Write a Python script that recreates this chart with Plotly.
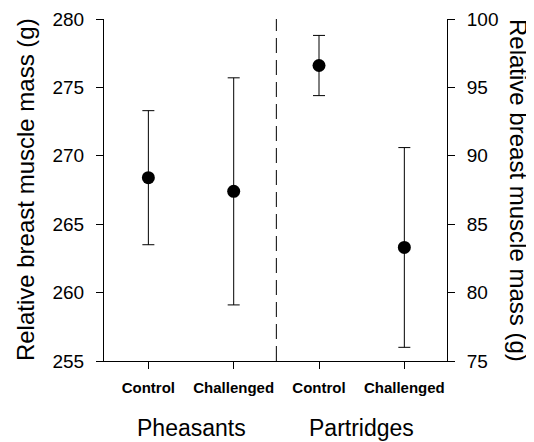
import plotly.graph_objects as go

# Data
categories = ["Control", "Challenged", "Control", "Challenged"]
groups = ["Pheasants", "Partridges"]
pheasant_mean = [268.4, 267.4]
pheasant_upper = [273.3, 275.7]
pheasant_lower = [263.5, 259.1]
partridge_mean = [96.6, 83.3]
partridge_upper = [98.8, 90.6]
partridge_lower = [94.4, 76.0]
left_ticks = [255, 260, 265, 270, 275, 280]
right_ticks = [75, 80, 85, 90, 95, 100]

FONT = "Liberation Sans, Arial, sans-serif"
x_pos = [1, 2, 3, 4]

fig = go.Figure()
fig.add_trace(go.Scatter(
    x=x_pos[:2], y=pheasant_mean, mode="markers",
    marker=dict(size=13, color="black"),
    error_y=dict(type="data", symmetric=False,
                 array=[u - m for u, m in zip(pheasant_upper, pheasant_mean)],
                 arrayminus=[m - l for m, l in zip(pheasant_mean, pheasant_lower)],
                 color="black", thickness=1, width=6),
    yaxis="y", showlegend=False,
))
fig.add_trace(go.Scatter(
    x=x_pos[2:], y=partridge_mean, mode="markers",
    marker=dict(size=13, color="black"),
    error_y=dict(type="data", symmetric=False,
                 array=[u - m for u, m in zip(partridge_upper, partridge_mean)],
                 arrayminus=[m - l for m, l in zip(partridge_mean, partridge_lower)],
                 color="black", thickness=1, width=6),
    yaxis="y2", showlegend=False,
))

fig.add_shape(type="line", xref="x", yref="paper", x0=2.5, x1=2.5, y0=0, y1=1,
              line=dict(color="black", width=1, dash="15px,7px"))

axis_common = dict(showgrid=False, zeroline=False, showline=True, linecolor="black",
                   linewidth=1, ticks="outside", ticklen=7, tickcolor="black", tickwidth=1)

# the page body adds an 8px offset at top-left, so the figure is 8px smaller
fig.update_layout(
    width=526, height=434,
    margin=dict(l=96, r=87, t=11, b=81),
    paper_bgcolor="white", plot_bgcolor="white",
    font=dict(family=FONT, color="black"),
    xaxis=dict(range=[0.48, 4.5], tickvals=x_pos, ticktext=categories,
               tickfont=dict(size=15, weight="bold"), ticklabelstandoff=6,
               automargin=False, **axis_common),
    yaxis=dict(range=[255, 280], tickvals=left_ticks, tickfont=dict(size=19),
               ticklabelstandoff=8, automargin=False, **axis_common),
    yaxis2=dict(range=[75, 100], tickvals=right_ticks, tickfont=dict(size=19),
                overlaying="y", side="right", anchor="x", ticklabelstandoff=8,
                automargin=False, **axis_common),
    annotations=[
        dict(text="Relative breast muscle mass (g)", xref="paper", yref="paper",
             x=-0.230, y=0.5, textangle=-90, showarrow=False,
             font=dict(size=24), xanchor="center", yanchor="middle"),
        dict(text="Relative breast muscle mass (g)", xref="paper", yref="paper",
             x=1.210, y=0.5, textangle=90, showarrow=False,
             font=dict(size=24), xanchor="center", yanchor="middle"),
        dict(text=groups[0], xref="x", yref="paper", x=1.5, y=-0.196,
             showarrow=False, font=dict(size=23), yanchor="middle"),
        dict(text=groups[1], xref="x", yref="paper", x=3.5, y=-0.196,
             showarrow=False, font=dict(size=23), yanchor="middle"),
    ],
)

fig.write_html("out.html")
